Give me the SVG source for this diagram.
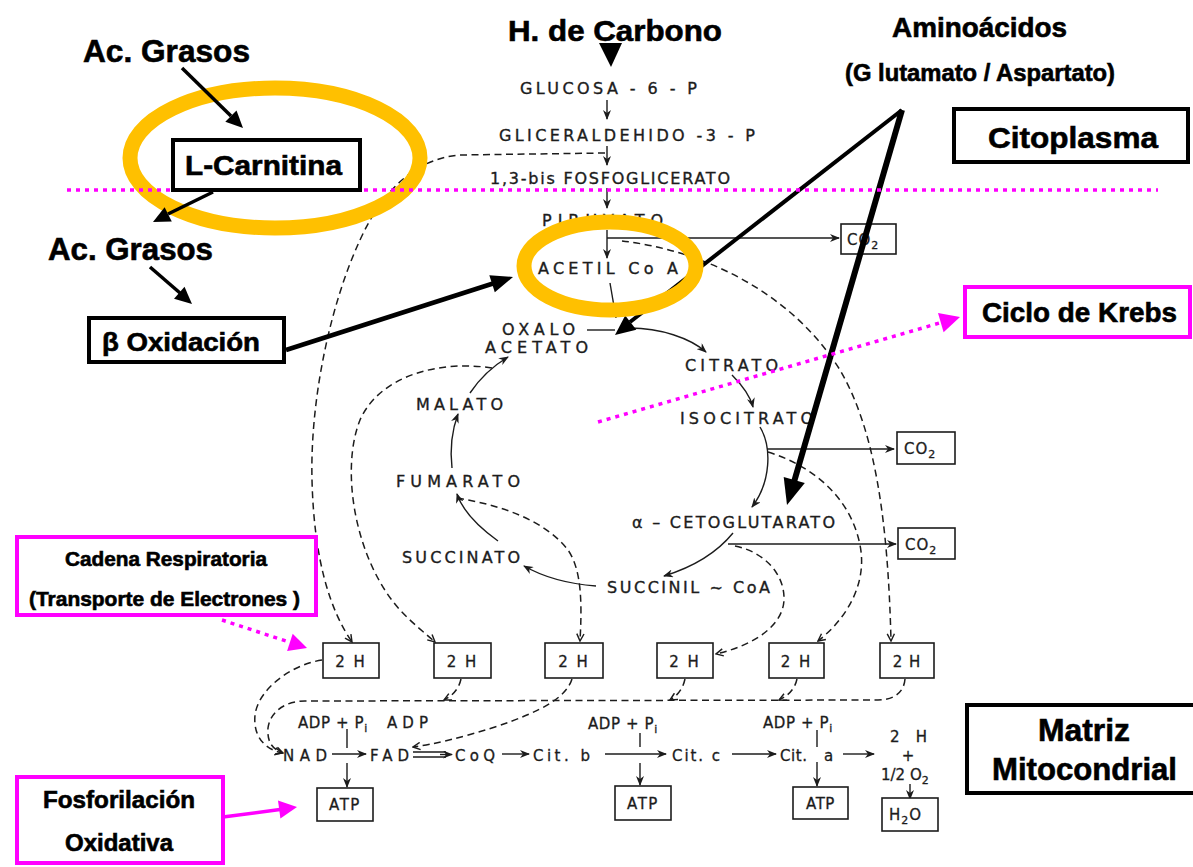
<svg xmlns="http://www.w3.org/2000/svg" width="1193" height="867" viewBox="0 0 1193 867">
  <defs>
    <style>
      .m { font-family: "DejaVu Sans", "Liberation Sans", sans-serif; font-size: 16px; fill: #1c1c1c; stroke: #1c1c1c; stroke-width: 0.35; }
      .e { font-family: "DejaVu Sans", "Liberation Sans", sans-serif; font-size: 15px; fill: #1c1c1c; stroke: #1c1c1c; stroke-width: 0.3; }
      .sub { font-size: 11px; }
      .lb { font-family: "Liberation Sans", Arial, sans-serif; font-weight: bold; fill: #000; stroke: #000; stroke-width: 0.6; }
      .bx { fill: #fff; stroke: #1c1c1c; stroke-width: 1.6; }
      .ln { fill: none; stroke: #1c1c1c; stroke-width: 1.4; }
      .dl { fill: none; stroke: #1c1c1c; stroke-width: 1.5; stroke-dasharray: 7 4.5; }
      .hb { fill: #fff; stroke: #000; stroke-width: 4; }
      .mb { fill: #fff; stroke: #ff00ff; stroke-width: 4; }
      .md { fill: none; stroke: #ff00ff; stroke-width: 3.5; stroke-dasharray: 4 5; }
      .ring { fill: none; stroke: #ffc000; stroke-width: 15; }
      .thick { fill: none; stroke: #000; }
      .head { fill: #000; }
      .mhead { fill: #ff00ff; }
    </style>
    <!-- small barbed head for solid thin arrows -->
    <marker id="ah" viewBox="0 0 10 8" refX="9" refY="4" markerWidth="10" markerHeight="8" markerUnits="userSpaceOnUse" orient="auto">
      <path d="M0,0 L10,4 L0,8 L3,4 z" fill="#1c1c1c"/>
    </marker>
    <!-- open V head for dashed arrows -->
    <marker id="av" viewBox="0 0 10 10" refX="9" refY="5" markerWidth="9" markerHeight="9" markerUnits="userSpaceOnUse" orient="auto">
      <path d="M1,1 L9,5 L1,9" fill="none" stroke="#1c1c1c" stroke-width="1.6"/>
    </marker>
  </defs>

  <rect x="0" y="0" width="1193" height="867" fill="#fff"/>

  <!-- ===== pathway connectors ===== -->
  <g id="connectors">
    <!-- glycolysis column -->
    <path class="ln" d="M607,100 L607,119" marker-end="url(#ah)"/>
    <path class="ln" d="M607,146 L607,165" marker-end="url(#ah)"/>
    <path class="ln" d="M607,188 L607,208" marker-end="url(#ah)"/>
    <path class="ln" d="M607,230 L607,258" marker-end="url(#ah)"/>
    <path class="ln" d="M607,238 L839,238" marker-end="url(#ah)"/>
    <path class="ln" d="M610,283 C612,295 614,306 616,318"/>

    <!-- Krebs cycle -->
    <path class="ln" d="M587,330 L615,330"/>
    <path class="ln" d="M630,328 C660,328 690,338 706,352" marker-end="url(#ah)"/>
    <path class="ln" d="M732,375 C742,385 750,395 753,407" marker-end="url(#ah)"/>
    <path class="ln" d="M760,427 C772,447 771,482 752,507" marker-end="url(#ah)"/>
    <path class="ln" d="M767,449 L894,449" marker-end="url(#ah)"/>
    <path class="ln" d="M733,533 C715,555 690,568 664,576" marker-end="url(#ah)"/>
    <path class="ln" d="M728,544 L896,544" marker-end="url(#ah)"/>
    <path class="ln" d="M596,586 C570,584 545,578 524,566" marker-end="url(#ah)"/>
    <path class="ln" d="M498,541 C480,528 463,512 457,494" marker-end="url(#ah)"/>
    <path class="ln" d="M452,468 C450,450 452,430 458,414" marker-end="url(#ah)"/>
    <path class="ln" d="M470,393 C480,378 493,366 508,357" marker-end="url(#ah)"/>

    <!-- hydrogen transfer (dashed) -->
    <path class="dl" d="M605,153 L460,155 C420,158 385,185 360,240 C330,305 310,400 312,480 C314,560 330,610 352,642" marker-end="url(#av)"/>
    <path class="dl" d="M492,368 C440,360 380,375 360,420 C340,470 355,560 400,610 C412,623 425,633 435,642" marker-end="url(#av)"/>
    <path class="dl" d="M457,498 C500,505 545,520 568,550 C582,570 582,605 580,641" marker-end="url(#av)"/>
    <path class="dl" d="M735,546 C765,552 785,575 784,600 C783,625 755,645 716,654" marker-end="url(#av)"/>
    <path class="dl" d="M768,452 C810,465 850,495 860,545 C868,585 845,620 818,641" marker-end="url(#av)"/>
    <path class="dl" d="M622,241 C700,250 790,290 840,370 C875,430 888,520 891,641" marker-end="url(#av)"/>

    <!-- from 2H boxes to the respiratory chain -->
    <path class="dl" d="M322,660 C290,665 258,690 255,715 C253,737 265,749 282,753" marker-end="url(#av)"/>
    <path class="dl" d="M905,679 C904,693 893,700 878,700 L305,701 C285,701 270,712 268,728 C267,742 272,749 283,753" marker-end="url(#av)"/>
    <path class="dl" d="M461,679 Q458,693 444,700" marker-end="url(#av)"/>
    <path class="dl" d="M572,679 C566,698 540,712 495,727 C460,738 435,744 413,747" marker-end="url(#av)"/>
    <path class="dl" d="M685,679 Q682,693 670,700" marker-end="url(#av)"/>
    <path class="dl" d="M797,679 Q794,693 779,700" marker-end="url(#av)"/>

    <!-- respiratory chain -->
    <path class="ln" d="M332,754 L366,754" marker-end="url(#ah)"/>
    <path class="ln" d="M413,752 L446,752 M413,757 L446,757"/>
    <path class="ln" d="M440,754.5 L452,754.5" marker-end="url(#ah)"/>
    <path class="ln" d="M502,754 L529,754" marker-end="url(#ah)"/>
    <path class="ln" d="M605,754 L666,754" marker-end="url(#ah)"/>
    <path class="ln" d="M732,754 L776,754" marker-end="url(#ah)"/>
    <path class="ln" d="M843,754 L874,754" marker-end="url(#ah)"/>
    <path class="ln" d="M347,729 L347,748 M640,733 L640,747 M817,730 L817,747"/>
    <path class="ln" d="M347,763 L347,787" marker-end="url(#ah)"/>
    <path class="ln" d="M640,763 L640,785" marker-end="url(#ah)"/>
    <path class="ln" d="M817,762 L817,786" marker-end="url(#ah)"/>
    <path class="ln" d="M910,784 L910,799" marker-end="url(#ah)"/>
  </g>

  <!-- ===== glycolysis ===== -->
  <g id="glucosa6p"><text class="m" x="520" y="94" textLength="177">GLUCOSA - 6 - P</text></g>
  <g id="gliceraldehido"><text class="m" x="499" y="141" textLength="256">GLICERALDEHIDO -3 - P</text></g>
  <g id="bisfosfoglicerato"><text class="m" x="490" y="183.5" font-size="15" textLength="240">1,3-bis FOSFOGLICERATO</text></g>
  <g id="piruvato"><text class="m" x="542" y="226" textLength="121">PIRUVATO</text></g>
  <g id="acetilcoa"><text class="m" x="538" y="274" textLength="140">ACETIL Co A</text></g>
  <g id="co2-a">
    <rect class="bx" x="841" y="224" width="55" height="30"/>
    <text class="e" x="847" y="245" font-size="16" letter-spacing="1">CO<tspan class="sub" font-size="12" dy="4">2</tspan></text>
  </g>

  <!-- ===== Krebs cycle ===== -->
  <g id="oxaloacetato">
    <text class="m" x="502" y="335" textLength="73">OXALO</text>
    <text class="m" x="485" y="353" textLength="103">ACETATO</text>
  </g>
  <g id="citrato"><text class="m" x="685" y="371" textLength="93">CITRATO</text></g>
  <g id="isocitrato"><text class="m" x="680" y="424" textLength="133">ISOCITRATO</text></g>
  <g id="cetoglutarato"><text class="m" x="632" y="528" textLength="203">α – CETOGLUTARATO</text></g>
  <g id="succinilcoa"><text class="m" x="607" y="593" textLength="163">SUCCINIL ~ CoA</text></g>
  <g id="succinato"><text class="m" x="402" y="563" textLength="118">SUCCINATO</text></g>
  <g id="fumarato"><text class="m" x="396" y="487" textLength="124">FUMARATO</text></g>
  <g id="malato"><text class="m" x="416" y="410" textLength="87">MALATO</text></g>
  <g id="co2-b">
    <rect class="bx" x="897" y="432" width="58" height="32"/>
    <text class="e" x="904" y="454" font-size="16" letter-spacing="1">CO<tspan class="sub" font-size="12" dy="4">2</tspan></text>
  </g>
  <g id="co2-c">
    <rect class="bx" x="898" y="528" width="57" height="31"/>
    <text class="e" x="905" y="550" font-size="16" letter-spacing="1">CO<tspan class="sub" font-size="12" dy="4">2</tspan></text>
  </g>

  <!-- ===== reduced coenzymes ===== -->
  <g id="h2-1"><rect class="bx" x="323" y="643" width="56" height="35"/><text class="e" x="351" y="667" font-size="16" text-anchor="middle" letter-spacing="2">2 H</text></g>
  <g id="h2-2"><rect class="bx" x="434" y="643" width="57" height="35"/><text class="e" x="462.5" y="667" font-size="16" text-anchor="middle" letter-spacing="2">2 H</text></g>
  <g id="h2-3"><rect class="bx" x="545" y="643" width="58" height="35"/><text class="e" x="574" y="667" font-size="16" text-anchor="middle" letter-spacing="2">2 H</text></g>
  <g id="h2-4"><rect class="bx" x="657" y="643" width="56" height="35"/><text class="e" x="685" y="667" font-size="16" text-anchor="middle" letter-spacing="2">2 H</text></g>
  <g id="h2-5"><rect class="bx" x="769" y="643" width="55" height="35"/><text class="e" x="796.5" y="667" font-size="16" text-anchor="middle" letter-spacing="2">2 H</text></g>
  <g id="h2-6"><rect class="bx" x="880" y="643" width="54" height="35"/><text class="e" x="907" y="667" font-size="16" text-anchor="middle" letter-spacing="1">2 H</text></g>

  <!-- ===== respiratory chain ===== -->
  <g id="adp-pi-1"><text class="e" x="298" y="728" letter-spacing="0.6">ADP + P<tspan class="sub" dy="4">i</tspan></text></g>
  <g id="adp"><text class="e" x="387" y="728" textLength="41">ADP</text></g>
  <g id="nad"><text class="e" x="283" y="761" font-size="16" textLength="44">NAD</text></g>
  <g id="fad"><text class="e" x="370" y="761" font-size="16" textLength="39">FAD</text></g>
  <g id="coq"><text class="e" x="455" y="761" font-size="16" textLength="40">CoQ</text></g>
  <g id="cit-b"><text class="e" x="533" y="761" font-size="16" textLength="57">Cit.  b</text></g>
  <g id="adp-pi-2"><text class="e" x="588" y="729" letter-spacing="0.6">ADP + P<tspan class="sub" dy="4">i</tspan></text></g>
  <g id="cit-c"><text class="e" x="672" y="761" font-size="16" textLength="48">Cit. c</text></g>
  <g id="adp-pi-3"><text class="e" x="763" y="728" letter-spacing="0.6">ADP + P<tspan class="sub" dy="4">i</tspan></text></g>
  <g id="cit-a"><text class="e" x="780" y="761" font-size="16" textLength="27">Cit.</text><text class="e" x="824" y="761" font-size="16">a</text></g>
  <g id="oxigeno">
    <text class="e" x="890" y="742" textLength="37">2  H</text>
    <text class="e" x="908" y="761" font-size="9" text-anchor="middle">+</text>
    <text class="e" x="881" y="780">1/2 O<tspan class="sub" dy="4">2</tspan></text>
  </g>
  <g id="atp-1"><rect class="bx" x="317" y="788" width="56" height="33"/><text class="e" x="345" y="810" font-size="16" text-anchor="middle" letter-spacing="1.5">ATP</text></g>
  <g id="atp-2"><rect class="bx" x="615" y="786" width="56" height="34"/><text class="e" x="643" y="809" font-size="16" text-anchor="middle" letter-spacing="1.5">ATP</text></g>
  <g id="atp-3"><rect class="bx" x="793" y="787" width="55" height="32"/><text class="e" x="820.5" y="809" font-size="16" text-anchor="middle" letter-spacing="0.5">ATP</text></g>
  <g id="h2o"><rect class="bx" x="882" y="798" width="56" height="33"/><text class="e" x="889" y="820" font-size="16" letter-spacing="1">H<tspan class="sub" font-size="12" dy="4">2</tspan><tspan dy="-4">O</tspan></text></g>

  <!-- amino-acid entry into the cycle (passes under the highlight ring) -->
  <g id="amino-link-1">
    <path class="thick" stroke-width="4" d="M902,110 L630,322"/>
    <polygon class="head" points="615,335 636.3,329.8 625.2,315.6"/>
  </g>

  <!-- ===== highlight rings ===== -->
  <g id="ring-acetil"><ellipse class="ring" cx="610" cy="266" rx="86" ry="44"/></g>
  <g id="ring-carnitina"><ellipse class="ring" cx="275" cy="158" rx="145" ry="70"/></g>

  <!-- ===== annotation arrows ===== -->
  <g id="annotation-arrows">
    <path class="thick" stroke-width="3.5" d="M182,68 L231,116"/>
    <polygon class="head" points="243,128 225.3,121.8 236.5,110.4"/>
    <path class="thick" stroke-width="3.5" d="M213,192 L168,214"/>
    <polygon class="head" points="153,222 171.8,221.6 164.6,207.2"/>
    <path class="thick" stroke-width="3.5" d="M150,267 L180,293"/>
    <polygon class="head" points="192,304 174,298.8 184.5,286.8"/>
    <path class="thick" stroke-width="4.5" d="M286,350 L493,283.5"/>
    <polygon class="head" points="513,277 494.8,292.3 489.3,275.2"/>
    <path class="thick" stroke-width="6" d="M902,110 L794,482"/>
    <polygon class="head" points="787,505 804.8,483.1 783.7,476.9"/>
    <polygon class="head" points="599,43 622,43 611,67"/>
  </g>

  <!-- ===== compartment boundary ===== -->
  <path class="md" d="M67,190 L1158,190"/>

  <!-- ===== labels ===== -->
  <g id="hidratos"><text class="lb" x="508" y="41" font-size="30" textLength="214" lengthAdjust="spacingAndGlyphs">H. de Carbono</text></g>
  <g id="acgrasos-1"><text class="lb" x="83" y="62" font-size="32" textLength="167" lengthAdjust="spacingAndGlyphs">Ac. Grasos</text></g>
  <g id="carnitina">
    <rect class="hb" x="173" y="140" width="187" height="50"/>
    <text class="lb" x="185" y="175" font-size="28" textLength="157" lengthAdjust="spacingAndGlyphs">L-Carnitina</text>
  </g>
  <g id="acgrasos-2"><text class="lb" x="48" y="260" font-size="32" textLength="165" lengthAdjust="spacingAndGlyphs">Ac. Grasos</text></g>
  <g id="beta-oxidacion">
    <rect class="hb" x="89" y="318" width="195" height="44" stroke-width="3.5"/>
    <text class="lb" x="102" y="351" font-size="25" textLength="158" lengthAdjust="spacingAndGlyphs">β Oxidación</text>
  </g>
  <g id="aminoacidos">
    <text class="lb" x="892" y="37" font-size="27" textLength="175" lengthAdjust="spacingAndGlyphs">Aminoácidos</text>
    <text class="lb" x="845" y="81" font-size="24" textLength="270" lengthAdjust="spacingAndGlyphs">(G lutamato / Aspartato)</text>
  </g>
  <g id="citoplasma">
    <rect class="hb" x="954" y="109" width="234" height="53"/>
    <text class="lb" x="988" y="148" font-size="30" textLength="170" lengthAdjust="spacingAndGlyphs">Citoplasma</text>
  </g>
  <g id="ciclo-krebs">
    <rect class="mb" x="965" y="287" width="225" height="50" stroke-width="3.5"/>
    <text class="lb" x="982" y="322" font-size="27" textLength="195" lengthAdjust="spacingAndGlyphs">Ciclo de Krebs</text>
  </g>
  <g id="matriz">
    <rect class="hb" x="967" y="705" width="240" height="88"/>
    <text class="lb" x="1038" y="741" font-size="32" textLength="92" lengthAdjust="spacingAndGlyphs">Matriz</text>
    <text class="lb" x="992" y="780" font-size="32" textLength="185" lengthAdjust="spacingAndGlyphs">Mitocondrial</text>
  </g>
  <g id="cadena">
    <rect class="mb" x="17" y="537" width="299" height="78"/>
    <text class="lb" x="65" y="566" font-size="20" textLength="202" lengthAdjust="spacingAndGlyphs">Cadena Respiratoria</text>
    <text class="lb" x="29" y="606" font-size="20" textLength="271" lengthAdjust="spacingAndGlyphs">(Transporte de Electrones )</text>
  </g>
  <g id="fosforilacion">
    <rect class="mb" x="17" y="777" width="206" height="86"/>
    <text class="lb" x="43" y="808" font-size="23" textLength="152" lengthAdjust="spacingAndGlyphs">Fosforilación</text>
    <text class="lb" x="65" y="851" font-size="23" textLength="108" lengthAdjust="spacingAndGlyphs">Oxidativa</text>
  </g>

  <!-- ===== magenta pointers ===== -->
  <g id="magenta-pointers">
    <path class="md" d="M598,422 L941,322.6"/>
    <polygon class="mhead" points="960,317 943.6,332.2 938,313"/>
    <path class="md" d="M222,620 L290,642.4"/>
    <polygon class="mhead" points="307,648 287.1,650.9 292.7,633.8"/>
    <path fill="none" stroke="#ff00ff" stroke-width="3.5" d="M223,817 L280,809.5"/>
    <polygon class="mhead" points="297,807 280.4,818.4 278,800.6"/>
  </g>
</svg>
